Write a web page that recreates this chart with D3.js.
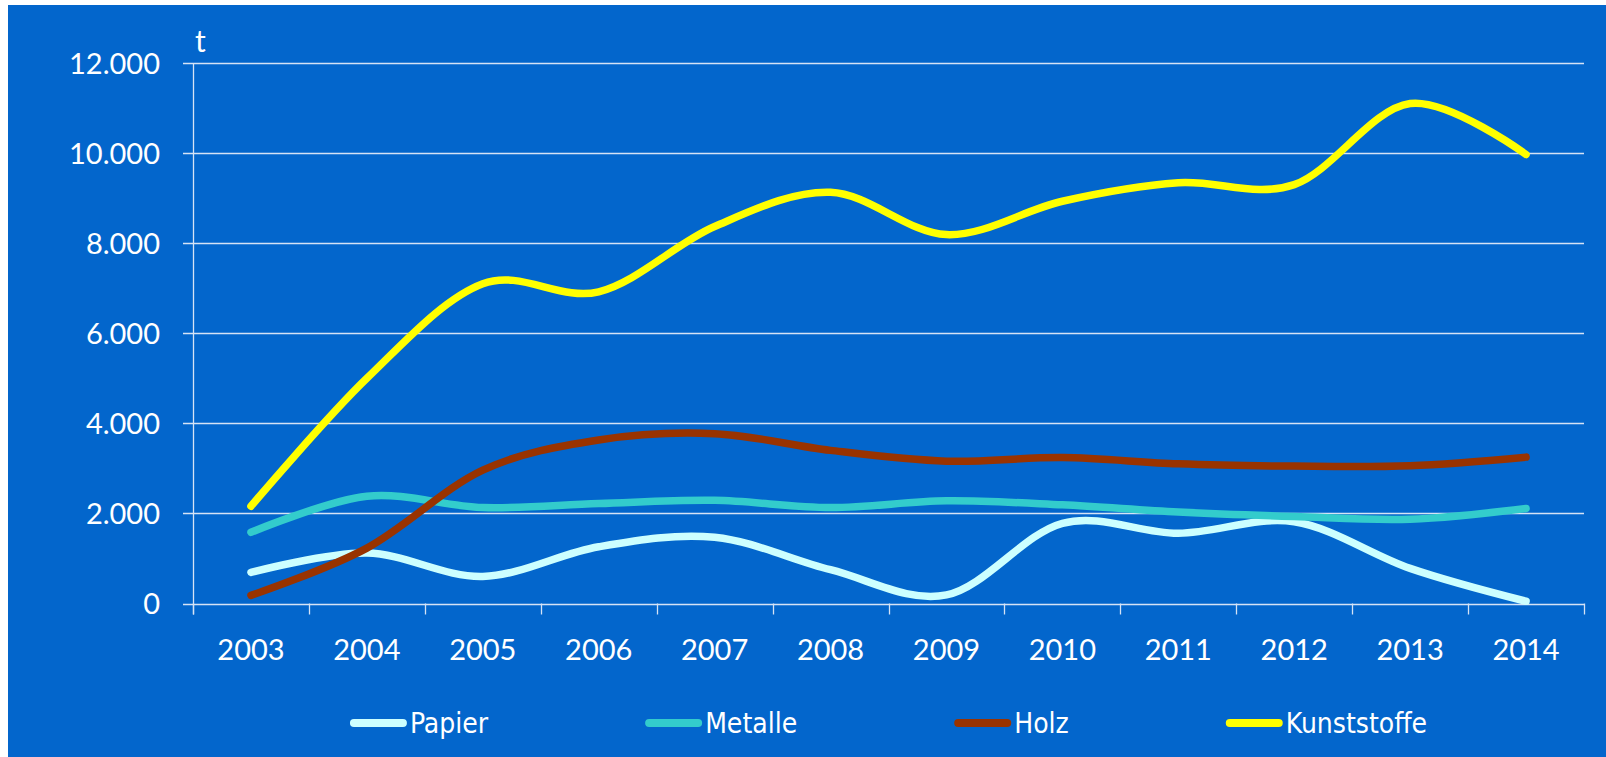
<!DOCTYPE html>
<html lang="de">
<head>
<meta charset="utf-8">
<title>Abfall in t, 2003-2014</title>
<script src="https://d3js.org/d3.v7.min.js"></script>
<style>
  body { margin: 0; background: #ffffff; }
  .tick text, .lbl { font-family: Lato, "Open Sans", sans-serif; font-weight: 400; fill: #ffffff; }
  .leg { font-family: "DejaVu Sans Condensed", "Liberation Sans Narrow", sans-serif; fill: #ffffff; }
</style>
</head>
<body>
<div id="chart"></div>
<script>

// data
var years = ["2003", "2004", "2005", "2006", "2007", "2008", "2009", "2010", "2011", "2012", "2013", "2014"];
var papier      = [690, 1120, 600, 1260, 1470, 750, 190, 1780, 1560, 1815, 780, 50];
var metalle     = [1580, 2380, 2130, 2220, 2290, 2130, 2280, 2190, 2030, 1930, 1870, 2110];
var holz        = [180, 1230, 2960, 3630, 3770, 3400, 3160, 3240, 3100, 3050, 3060, 3250];
var kunststoffe = [2160, 5000, 7100, 6920, 8370, 9130, 8190, 8930, 9340, 9300, 11100, 9970];
var seriesNames = ["Papier", "Metalle", "Holz", "Kunststoffe"];
var seriesColors = ["#ccffff", "#33cccc", "#993300", "#ffff00"];
var yTicks = [0, 2000, 4000, 6000, 8000, 10000, 12000];
var unit = "t";

var W = 1606, H = 757;
// plot box (window.top is reserved, so own names)
var plotLeft = 193, plotRight = 1584, plotTop = 63, plotBottom = 603.5;

var svg = d3.select("#chart").append("svg")
    .attr("width", W)
    .attr("height", H);

// blue panel
svg.append("rect")
    .attr("x", 8).attr("y", 5)
    .attr("width", W - 8).attr("height", H - 5)
    .style("fill", "#0366cc");

var de = d3.formatLocale({decimal: ",", thousands: ".", grouping: [3], currency: ["", " €"]});

var x = d3.scaleBand()
    .domain(years)
    .range([plotLeft, plotRight]);

var y = d3.scaleLinear()
    .domain([0, 12000])
    .range([plotBottom, plotTop]);

// Y axis with grid
var yAxis = svg.append("g")
    .attr("transform", "translate(" + plotLeft + ",0)")
    .call(d3.axisLeft(y).tickValues(yTicks).tickSize(0).tickPadding(33).tickFormat(de.format(",d")));
yAxis.select(".domain").remove();
yAxis.selectAll(".tick text").style("font-size", "29px").attr("dy", "0.36em");

svg.append("g").selectAll("line")
    .data(yTicks)
    .enter().append("line")
      .attr("x1", plotLeft - 10)
      .attr("x2", plotRight)
      .attr("y1", function(d) { return Math.round(y(d)) + 0.5; })
      .attr("y2", function(d) { return Math.round(y(d)) + 0.5; })
      .style("stroke", "#d6e3f5")
      .style("stroke-width", 1.3);

svg.append("line")
    .attr("x1", plotLeft + 0.5).attr("x2", plotLeft + 0.5)
    .attr("y1", y(12000)).attr("y2", plotBottom + 11)
    .style("stroke", "#d6e3f5").style("stroke-width", 1.3);

// X axis: ticks on band edges, labels in the middle
var edges = years.map(function(d) { return x(d); }).concat([plotRight]);
svg.append("g").selectAll("line")
    .data(edges)
    .enter().append("line")
      .attr("x1", function(d) { return Math.round(d) + 0.5; })
      .attr("x2", function(d) { return Math.round(d) + 0.5; })
      .attr("y1", plotBottom)
      .attr("y2", plotBottom + 11)
      .style("stroke", "#d6e3f5")
      .style("stroke-width", 1.3);

var xAxis = svg.append("g")
    .attr("transform", "translate(0," + plotBottom + ")")
    .call(d3.axisBottom(x).tickSize(0).tickPadding(0));
xAxis.select(".domain").remove();
xAxis.selectAll(".tick text")
    .style("font-size", "29px")
    .attr("dy", null)
    .attr("y", 56);

// unit label
svg.append("text")
    .attr("class", "lbl")
    .attr("x", plotLeft + 2)
    .attr("y", 52)
    .style("font-size", "30px")
    .text(unit);

// lines
var line = d3.line()
    .x(function(d, i) { return x(years[i]) + x.bandwidth() / 2; })
    .y(function(d) { return y(d); })
    .curve(d3.curveCardinal.tension(0));

var allSeries = [papier, metalle, holz, kunststoffe];
svg.append("g").selectAll("path")
    .data(allSeries)
    .enter().append("path")
      .attr("d", function(d) { return line(d); })
      .style("fill", "none")
      .style("stroke", function(d, i) { return seriesColors[i]; })
      .style("stroke-width", 7.5)
      .style("stroke-linecap", "round")
      .style("stroke-linejoin", "round");

// legend, centred under the plot
var legY = 723, swatch = 57, gap = 157;
var leg = svg.append("g");
var items = leg.selectAll("g")
    .data(seriesNames)
    .enter().append("g");
items.append("line")
    .attr("x1", 4).attr("x2", swatch - 4)
    .attr("y1", 0).attr("y2", 0)
    .style("stroke", function(d, i) { return seriesColors[i]; })
    .style("stroke-width", 8)
    .style("stroke-linecap", "round");
items.append("text")
    .attr("class", "leg")
    .attr("x", swatch + 3)
    .attr("y", 0)
    .attr("dy", "0.36em")
    .style("font-size", "28px")
    .text(function(d) { return d; });

var pos = 0;
items.each(function() {
    var w = swatch + 3 + d3.select(this).select("text").node().getComputedTextLength();
    d3.select(this).attr("data-x", pos);
    pos += w + gap;
});
var total = pos - gap;
var startX = (plotLeft + plotRight) / 2 - total / 2;
items.attr("transform", function() {
    return "translate(" + (startX + (+d3.select(this).attr("data-x"))) + "," + legY + ")";
});

</script>
</body>
</html>
